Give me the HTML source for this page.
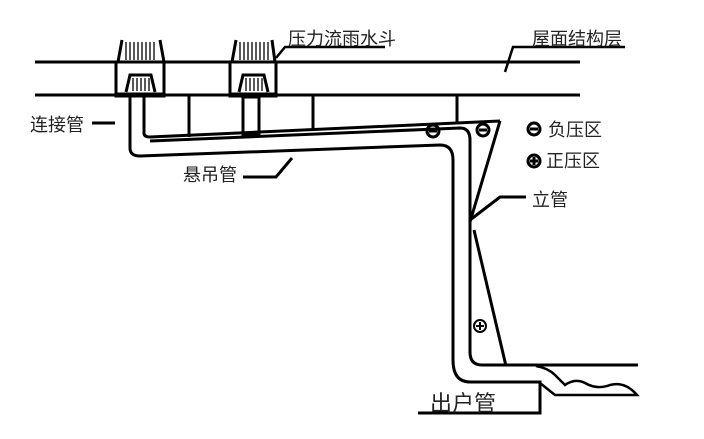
<!DOCTYPE html>
<html><head><meta charset="utf-8"><style>
body{margin:0;background:#fff;}
svg{display:block;}
text{font-family:"Liberation Sans","Noto Sans CJK SC",sans-serif;fill:#222;}
</style></head><body>
<svg width="704" height="439" viewBox="0 0 704 439" xmlns="http://www.w3.org/2000/svg">
<g stroke="#000" stroke-width="3" fill="none">
<line x1="35" y1="62" x2="580" y2="62"/>
<line x1="35" y1="95" x2="580" y2="95"/>
<rect x="116" y="62" width="48" height="34" fill="#fff"/>
<path d="M118 62 L122 40 M160 40 L164 62"/>
<path d="M126 92 L130 75 L151 75 L155 92"/>
<line x1="115" y1="95" x2="165" y2="95" stroke-width="5"/>
<g stroke-width="1.3">
<path d="M126 42V60M130 42V60M134 42V60M138 42V60M142 42V60M146 42V60M150 42V60M154 42V60"/>
<path d="M133 78V91M137 78V91M141 78V91M145 78V91M149 78V91"/>
<path d="M240 42V60M244 42V60M248 42V60M252 42V60M256 42V60M260 42V60M264 42V60M268 42V60"/>
<path d="M246 78V91M250 78V91M254 78V91M258 78V91M262 78V91"/>
</g>
<rect x="230" y="62" width="46" height="34"/>
<path d="M232 62 L236 40 M272 40 L275 62"/>
<path d="M239 92 L243 75 L264 75 L268 92"/>
<line x1="229" y1="95" x2="277" y2="95" stroke-width="5"/>
<rect x="243" y="97" width="16" height="38"/>
<line x1="189" y1="96" x2="189" y2="137"/>
<line x1="313" y1="96" x2="313" y2="131"/>
<line x1="457" y1="96" x2="457" y2="124"/>
<path d="M144 97 V133 Q144 137 150 137 L500 121"/>
<path d="M150 141 L460 128 Q470 128 470 140 V352 Q470 365 482 365 H638"/>
<path d="M130 97 V148 Q130 156 140 156 L440 145 Q453 145 453 160 V360 Q453 382 470 382 H540 V413 H418"/>
<path d="M500 121 L470 222"/>
<path d="M474 230 L506 366"/>
<path d="M536 366 Q548 368 555 375 L565 385 Q575 378 585 383 Q597 390 610 385 Q625 381 637 395 L555 395 L540 383" stroke-width="2.5"/>
<path d="M276 58 L285 47 H385" stroke-width="2.5"/>
<path d="M505 72 L513 47 H625" stroke-width="2.5"/>
<line x1="92" y1="123" x2="115" y2="123"/>
<path d="M243 177 H276 L292 158"/>
<path d="M470 220 L500 197 H526"/>
<circle cx="433" cy="131" r="6"/><line x1="429" y1="131" x2="437" y2="131"/>
<circle cx="483" cy="130" r="6"/><line x1="479" y1="130" x2="487" y2="130"/>
<circle cx="534" cy="129" r="6"/><line x1="530" y1="129" x2="538" y2="129"/>
<circle cx="534" cy="161" r="6"/><path d="M530 161H538M534 157V165"/>
<circle cx="480" cy="326" r="6" stroke-width="2"/><path d="M476 326H484M480 322V330" stroke-width="2"/>
</g>
<g font-size="18">
<text x="288" y="45">压力流雨水斗</text>
<text x="532" y="45">屋面结构层</text>
<text x="30" y="131">连接管</text>
<text x="183" y="181">悬吊管</text>
<text x="548" y="136">负压区</text>
<text x="546" y="167">正压区</text>
<text x="532" y="206">立管</text>
<text x="430" y="411" font-size="22">出户管</text>
</g>
</svg>
</body></html>
